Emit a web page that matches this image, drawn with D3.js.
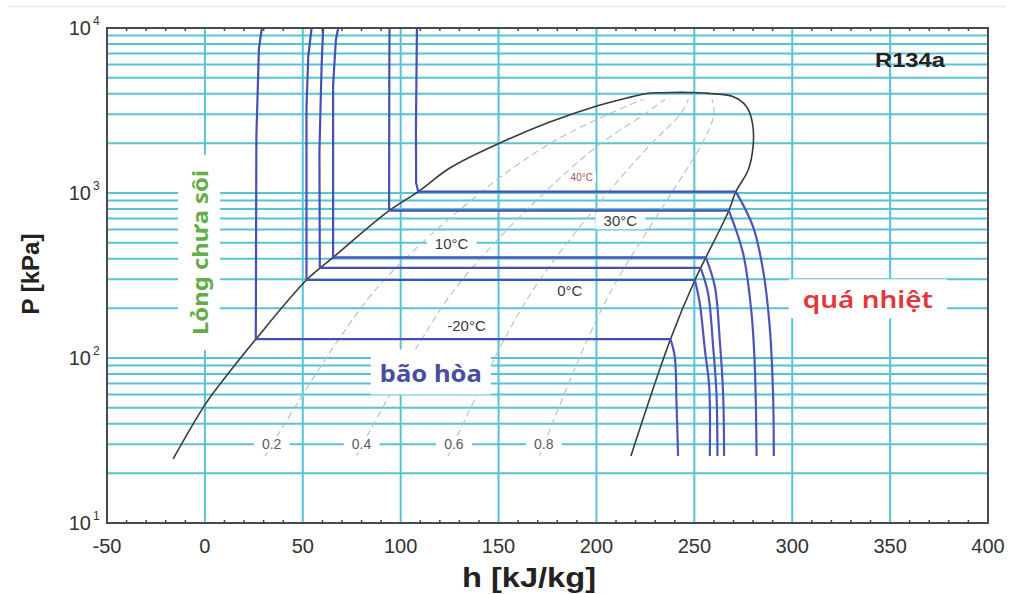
<!DOCTYPE html>
<html>
<head>
<meta charset="utf-8" />
<style>
  body { margin: 0; background: #fff; }
  svg { display: block; font-family: "Liberation Sans", Arial, sans-serif; }
</style>
</head>
<body>
<script src="https://cdn.jsdelivr.net/npm/d3@7/dist/d3.min.js"></script>
<script>
// ---- axis ticks
const hTicks = [-50, 0, 50, 100, 150, 200, 250, 300, 350, 400];
const pDecades = [10, 100, 1000, 10000];
const pExponents = ["1", "2", "3", "4"];

// ---- saturation dome (h kJ/kg, P kPa)
const satLiquid = [[-16.2, 24.5], [0, 52], [9.35, 73.6], [26, 130], [51.9, 297], [65.5, 407], [94.1, 781],
  [109, 1019], [125.1, 1417], [150.7, 2010], [176.2, 2692], [200.2, 3365], [215.5, 3766], [225.7, 4011]];
const satTop = [[225.7, 4011], [232.4, 4055], [252.8, 4055], [257.9, 4011]];
const satVapor = [[257.9, 4011], [269.7, 3840], [276.7, 3333], [279.7, 2643], [280, 1910], [277.5, 1377],
  [271.2, 1019], [267.6, 781], [255.9, 407], [250.3, 297], [237.8, 130], [217.6, 25.5]];

// ---- quality lines inside the dome
const qualityNames = ["0.2", "0.4", "0.6", "0.8"];
const q02 = [[30.7, 25.5], [68.4, 130], [91.6, 297], [141.4, 1019], [176.4, 2000], [206, 3000], [224, 3700]];
const q04 = [[77.4, 25.5], [110.7, 130], [131.3, 297], [173.9, 1019], [202.3, 2000], [224.5, 3000], [235, 3700]];
const q06 = [[124.2, 25.5], [153, 130], [171, 297], [206.3, 1019], [228.2, 2000], [242.8, 3000], [247, 3700]];
const q08 = [[170.9, 25.5], [195.4, 130], [210.6, 297], [238.8, 1019], [254, 2000], [260, 3000], [259, 3700]];
const qualityLabelAt = [[34.1, 30], [80, 30], [127.2, 30], [173.1, 30]];

// ---- isotherms: evaporating/condensing pressure, liquid branch, vapour branch
const isoNames = ["-20°C", "0°C", "5°C", "10°C", "30°C", "40°C"];
const isoP = [130, 297, 352, 407, 781, 1019];
const isoHliq = [26.0, 51.9, 58.7, 65.5, 94.1, 109];
const isoHvap = [237.8, 250.3, 253.2, 255.9, 267.6, 271.2];
const liqM20 = [[26.0, 130], [26.3, 2200], [27.6, 7500], [29.1, 10000]];
const liq0 = [[51.9, 297], [51.9, 3300], [52.8, 6700], [54.5, 10000]];
const liq5 = [[58.7, 352], [58.5, 1780], [59.6, 5820], [60.4, 10000]];
const liq10 = [[65.5, 407], [65.5, 4520], [66.9, 8470], [68.1, 10000]];
const liq30 = [[94.1, 781], [94.2, 5000], [94.3, 10000]];
const liq40 = [[109, 1019], [107.9, 1150], [107.8, 2400], [108.3, 10000]];
const vapM20 = [[237.8, 130], [240, 102], [240.9, 53], [241.7, 25.5]];
const vap0 = [[250.3, 297], [252.8, 214], [255.4, 112], [257.6, 67], [257.9, 25.5]];
const vap5 = [[253.2, 352], [257, 247], [259.6, 117], [261.3, 61], [261.8, 25.5]];
const vap10 = [[255.9, 407], [260.5, 270], [263, 128], [264.7, 61], [265.2, 25.5]];
const vap30 = [[267.6, 781], [274.9, 431], [279.2, 187], [280.9, 88.5], [281.8, 25.5]];
const vap40 = [[271.2, 1019], [280, 625], [285.1, 341], [288.5, 155], [290.2, 61], [290.6, 25.5]];

// ---- temperature labels (position in h, P)
const tempLabels = ["40°C", "30°C", "10°C", "0°C", "-20°C"];
const tempLabelAt = [[192.5, 1250], [212.2, 676], [126, 491], [186.4, 256], [133.6, 156]];

// ---- region labels
const regionLabels = ["Lỏng chưa sôi", "bão hòa", "quá nhiệt"];
const regionLabelAt = [[-2.3, 436], [115.4, 81], [338.6, 225]];

const W = 1014, H = 594;
const x = d3.scaleLinear().domain([-50, 400]).range([107, 988]);
const y = d3.scaleLog().domain([10, 10000]).range([523, 28]);

const svg = d3.select("body").append("svg").attr("width", W).attr("height", H);

// faint border line of the screenshot
svg.append("line").attr("x1", 8).attr("x2", 1006).attr("y1", 6.5).attr("y2", 6.5)
  .attr("stroke", "#ececec").attr("stroke-width", 2);

// grid
const gridColor = "#58c3d6";
const pGrid = [];
[10, 100, 1000].forEach(dec => d3.range(1, 10).forEach(m => { if (m * dec > 10) pGrid.push(m * dec); }));
svg.append("g").selectAll("line").data(pGrid).join("line")
  .attr("x1", x(-50)).attr("x2", x(400))
  .attr("y1", d => y(d)).attr("y2", d => y(d))
  .attr("stroke", gridColor).attr("stroke-width", 2);
svg.append("g").selectAll("line").data(hTicks.slice(1, -1)).join("line")
  .attr("x1", d => x(d)).attr("x2", d => x(d))
  .attr("y1", y(10)).attr("y2", y(10000))
  .attr("stroke", gridColor).attr("stroke-width", 2);

const curve = d3.line().x(d => x(d[0])).y(d => y(d[1])).curve(d3.curveCatmullRom.alpha(0.5));
const straight = d3.line().x(d => x(d[0])).y(d => y(d[1]));

// quality lines
svg.append("g").selectAll("path").data([q02, q04, q06, q08]).join("path")
  .attr("d", curve).attr("fill", "none")
  .attr("stroke", "#bdbdbd").attr("stroke-width", 1.1).attr("stroke-dasharray", "7,4");

// saturation dome
svg.append("path").attr("d", curve(satLiquid.concat(satTop.slice(1), satVapor.slice(1))))
  .attr("fill", "none").attr("stroke", "#3a3a3a").attr("stroke-width", 1.6);

// label helper: white box + text
function boxedText(g, txt, cx, cy, opt) {
  const grp = g.append("g").attr("transform", `translate(${cx},${cy})${opt.rotate ? " rotate(-90)" : ""}`);
  const rect = grp.append("rect").attr("fill", "#fff");
  const t = grp.append("text").text(txt)
    .attr("text-anchor", "middle").attr("dy", "0.35em")
    .attr("font-size", opt.size).attr("fill", opt.color)
    .attr("font-weight", opt.weight || "normal");
  if (opt.family) t.attr("font-family", opt.family);
  if (opt.len) t.attr("textLength", opt.len).attr("lengthAdjust", "spacingAndGlyphs");
  const b = t.node().getBBox();
  rect.attr("x", b.x - opt.padX).attr("y", b.y - opt.padY)
    .attr("width", b.width + 2 * opt.padX).attr("height", b.height + 2 * opt.padY);
}

const labels = svg.append("g");
qualityNames.forEach((q, i) => boxedText(labels, q, x(qualityLabelAt[i][0]), y(qualityLabelAt[i][1]),
  { size: 14, color: "#5a5a5a", padX: 8, padY: 0 }));
tempLabels.forEach((t, i) => boxedText(labels, t, x(tempLabelAt[i][0]), y(tempLabelAt[i][1]),
  i === 0 ? { size: 10, color: "#b0504f", padX: 3, padY: 0 }
          : { size: 15, color: "#3a3a3a", padX: 8, padY: 0 }));
boxedText(labels, regionLabels[0], x(regionLabelAt[0][0]), y(regionLabelAt[0][1]),
  { size: 22, color: "#62ad45", weight: "bold", family: "Noto Sans", len: 165, padX: 15, padY: 6, rotate: true });
boxedText(labels, regionLabels[1], x(regionLabelAt[1][0]), y(regionLabelAt[1][1]),
  { size: 24, color: "#4b4ca4", weight: "bold", family: "Noto Sans", len: 102, padX: 9, padY: 6 });
boxedText(labels, regionLabels[2], x(regionLabelAt[2][0]), y(regionLabelAt[2][1]),
  { size: 24, color: "#e3363c", weight: "600", family: "Noto Sans", len: 130, padX: 14, padY: 3 });

// isotherms
const blue = "#4450b2";
const iso = svg.append("g").attr("fill", "none").attr("stroke", blue).attr("stroke-width", 2.2);
iso.selectAll(".liq").data([liqM20, liq0, liq5, liq10, liq30, liq40]).join("path")
  .attr("class", "liq").attr("d", straight);
iso.selectAll(".bar").data(isoP).join("line").attr("class", "bar")
  .attr("x1", (d, i) => x(isoHliq[i])).attr("x2", (d, i) => x(isoHvap[i]))
  .attr("y1", d => y(d)).attr("y2", d => y(d));
iso.selectAll(".vap").data([vapM20, vap0, vap5, vap10, vap30, vap40]).join("path")
  .attr("class", "vap").attr("d", curve).attr("stroke", "#4f55b8");

// frame and minor ticks
svg.append("rect").attr("x", x(-50)).attr("y", y(10000))
  .attr("width", x(400) - x(-50)).attr("height", y(10) - y(10000))
  .attr("fill", "none").attr("stroke", "#4a4a4a").attr("stroke-width", 2);
const minor = d3.range(-40, 400, 10).filter(d => d % 50 !== 0);
svg.append("g").selectAll("line").data(minor).join("line")
  .attr("x1", d => x(d)).attr("x2", d => x(d)).attr("y1", y(10000)).attr("y2", y(10000) + 3)
  .attr("stroke", "#444").attr("stroke-width", 1.5);
svg.append("g").selectAll("line").data(minor).join("line")
  .attr("x1", d => x(d)).attr("x2", d => x(d)).attr("y1", y(10)).attr("y2", y(10) - 3)
  .attr("stroke", "#444").attr("stroke-width", 1.5);

// tick labels
svg.append("g").selectAll("text").data(hTicks).join("text")
  .attr("x", d => x(d)).attr("y", 553).attr("text-anchor", "middle")
  .attr("font-size", 20).attr("fill", "#333").text(d => d);
svg.append("g").selectAll("text").data(pDecades).join("text")
  .attr("x", 91).attr("y", d => y(d) + 7).attr("text-anchor", "end")
  .attr("font-size", 20).attr("fill", "#333").text("10");
svg.append("g").selectAll("text").data(pDecades).join("text")
  .attr("x", 93).attr("y", d => y(d) - 3)
  .attr("font-size", 12).attr("fill", "#333").text((d, i) => pExponents[i]);

// axis titles
svg.append("text").attr("x", 529).attr("y", 587).attr("text-anchor", "middle")
  .attr("font-size", 28).attr("font-weight", "bold").attr("fill", "#222")
  .attr("textLength", 134).attr("lengthAdjust", "spacingAndGlyphs").text("h [kJ/kg]");
svg.append("text").attr("transform", "translate(39,274) rotate(-90)").attr("text-anchor", "middle")
  .attr("font-size", 24).attr("font-weight", "bold").attr("fill", "#222").text("P [kPa]");
svg.append("text").attr("x", 945).attr("y", 67).attr("text-anchor", "end")
  .attr("font-size", 20).attr("font-weight", "bold").attr("fill", "#222")
  .attr("textLength", 70).attr("lengthAdjust", "spacingAndGlyphs").text("R134a");
</script>
</body>
</html>
